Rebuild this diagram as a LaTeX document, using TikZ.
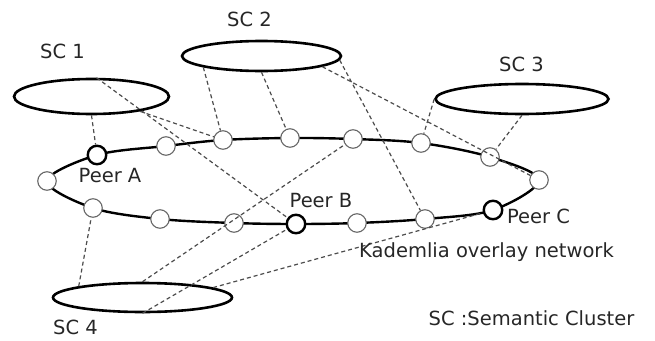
\documentclass[tikz,border=0pt]{standalone}
\usepackage{fontspec}
\setmainfont{DejaVu Sans}
\usetikzlibrary{shapes.geometric}
\begin{document}
\begin{tikzpicture}[x=1pt,y=-1pt,
  sc/.style={ellipse, draw=black, line width=2.6pt, inner sep=0pt},
  peer/.style={circle, draw=black!60, line width=1.1pt, fill=white, minimum size=18.5pt, inner sep=0pt},
  bpeer/.style={peer, draw=black, line width=2.4pt},
  link/.style={draw=black!70, line width=1.2pt, dash pattern=on 4pt off 3pt},
  ring/.style={line width=2.4pt},
  lbl/.style={anchor=base, font=\fontsize{19.5}{22}\selectfont, text=black!85, inner sep=0pt}]
\useasboundingbox (0,0) rectangle (655,340);

% semantic clusters
\node[sc, minimum width=155pt, minimum height=35pt] (sc1) at (91.5,96.5) {};
\node[sc, minimum width=159pt, minimum height=30pt] (sc2) at (261.5,56) {};
\node[sc, minimum width=173pt, minimum height=30pt] (sc3) at (522,99) {};
\node[sc, minimum width=179pt, minimum height=29pt] (sc4) at (142.5,297.5) {};

% ring positions
\coordinate (c1) at (97,155);
\coordinate (c2) at (166,146);
\coordinate (c3) at (223,140);
\coordinate (c4) at (290,138);
\coordinate (c5) at (353,139);
\coordinate (c6) at (421,143);
\coordinate (c7) at (490,157);
\coordinate (c8) at (539,180);
\coordinate (c9) at (493,210);
\coordinate (c10) at (425,219);
\coordinate (c11) at (357,223);
\coordinate (c12) at (296,224);
\coordinate (c13) at (234,223);
\coordinate (c14) at (160,219);
\coordinate (c15) at (93,208);
\coordinate (c16) at (47,181);

\draw[ring] plot[smooth cycle, tension=0.55] coordinates {(c1) (c2) (c3) (c4) (c5) (c6) (c7) (c8) (c9) (c10) (c11) (c12) (c13) (c14) (c15) (c16)};

\node[bpeer] (pA) at (c1) {};
\node[peer] (n2) at (c2) {};
\node[peer] (n3) at (c3) {};
\node[peer] (n4) at (c4) {};
\node[peer] (n5) at (c5) {};
\node[peer] (n6) at (c6) {};
\node[peer] (n7) at (c7) {};
\node[peer] (n8) at (c8) {};
\node[bpeer] (pC) at (c9) {};
\node[peer] (n10) at (c10) {};
\node[peer] (n11) at (c11) {};
\node[bpeer] (pB) at (c12) {};
\node[peer] (n13) at (c13) {};
\node[peer] (n14) at (c14) {};
\node[peer] (n15) at (c15) {};
\node[peer] (n16) at (c16) {};

% links
\draw[link] (sc1.south) -- (pA);
\draw[link] (sc1.75) -- (pB);
\draw[link] (sc1.-17) -- (n3);
\draw[link] (sc2.-169) -- (n3);
\draw[link] (sc2.south) -- (n4);
\draw[link] (sc2.-3) -- (n10);
\draw[link] (sc2.-10) -- (n8);
\draw[link] (sc3.west) -- (n6);
\draw[link] (sc3.south) -- (n7);
\draw[link] (sc4.170) -- (n15);
\draw[link] (sc4.north) -- (n5);
\draw[link] (sc4.south) -- (pB);
\draw[link] (sc4.8) -- (pC);

% labels
\node[lbl] (l1) at (62.5,58) {SC 1};
\node[lbl] (l2) at (249.5,27) {SC 2};
\node[lbl] (l3) at (521.5,71) {SC 3};
\node[lbl] (l4) at (75.5,334.5) {SC 4};
\node[lbl] (lA) at (110,182) {Peer A};
\node[lbl] (lB) at (321,207) {Peer B};
\node[lbl] (lC) at (538.5,223) {Peer C};
\node[lbl] (lK) at (486.5,257) {Kademlia overlay network};
\node[lbl] (lS) at (531.5,325) {SC :Semantic Cluster};
\end{tikzpicture}
\end{document}
